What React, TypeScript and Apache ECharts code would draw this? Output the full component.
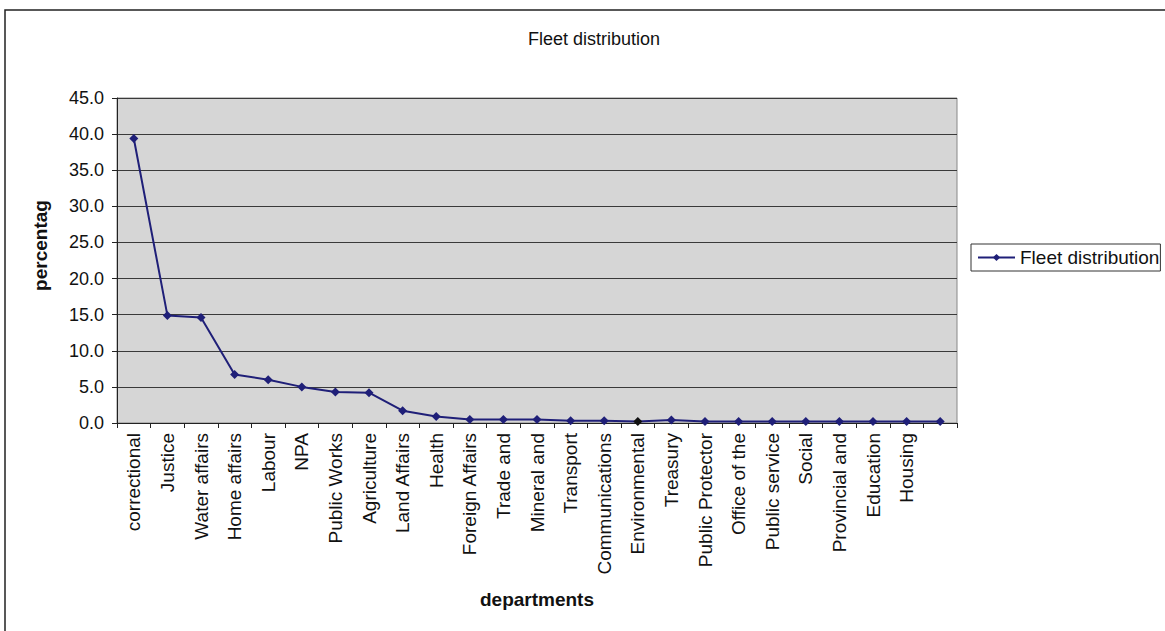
import React, { useEffect, useRef } from "react";
import * as echarts from "echarts";

const categories = [
  "correctional", "Justice", "Water affairs", "Home affairs", "Labour", "NPA",
  "Public Works", "Agriculture", "Land Affairs", "Health", "Foreign Affairs",
  "Trade and", "Mineral and", "Transport", "Communications", "Environmental",
  "Treasury", "Public Protector", "Office of the", "Public service", "Social",
  "Provincial and", "Education", "Housing", "",
];
const fleetValues = [
  39.4, 14.9, 14.6, 6.7, 6.0, 5.0, 4.3, 4.2, 1.7, 0.9, 0.5, 0.5, 0.5, 0.3,
  0.3, 0.2, 0.4, 0.2, 0.2, 0.2, 0.2, 0.2, 0.2, 0.2, 0.2,
];
const seriesName = "Fleet distribution";
const titleText = "Fleet distribution";
const yAxisName = "percentag";
const xAxisName = "departments";

const FONT = "'Liberation Sans', Arial, sans-serif";
const NAVY = "#1f1f78";

export default function App() {
  const ref = useRef<HTMLDivElement>(null);
  useEffect(() => {
    if (!ref.current) return;
    const chart = echarts.init(ref.current, undefined, { renderer: "svg" });
    chart.setOption({
      animation: false,
      backgroundColor: "#ffffff",
      textStyle: { fontFamily: FONT },
      title: {
        text: titleText,
        left: 589,
        top: 25,
        textAlign: "center",
        textStyle: { fontSize: 18, fontWeight: "normal", color: "#111", fontFamily: FONT },
      },
      legend: {
        left: 971,
        top: 244,
        orient: "vertical",
        borderColor: "#333",
        borderWidth: 1,
        padding: [4, 1, 4, 6],
        itemWidth: 37,
        itemHeight: 9,
        textStyle: { fontSize: 19, color: "#111", fontFamily: FONT },
        data: [seriesName],
      },
      grid: {
        left: 117,
        right: 1165 - 957,
        top: 98,
        bottom: 631 - 423,
        show: true,
        backgroundColor: "#d6d6d6",
        borderColor: "#888",
        borderWidth: 1,
      },
      xAxis: {
        type: "category",
        data: categories,
        boundaryGap: true,
        name: xAxisName,
        nameLocation: "middle",
        nameGap: 167,
        nameTextStyle: { fontSize: 19, fontWeight: "bold", color: "#111", fontFamily: FONT },
        axisLine: { show: true, lineStyle: { color: "#222", width: 1 } },
        axisTick: { show: true, alignWithLabel: false, length: 5, lineStyle: { color: "#222" } },
        axisLabel: {
          interval: 0,
          rotate: 90,
          margin: 10,
          fontSize: 19,
          color: "#111",
          fontFamily: FONT,
        },
        splitLine: { show: false },
      },
      yAxis: {
        type: "value",
        min: 0,
        max: 45,
        interval: 5,
        name: yAxisName,
        nameLocation: "middle",
        nameGap: 67,
        nameTextStyle: {
          fontSize: 19,
          fontWeight: "bold",
          color: "#111",
          fontFamily: FONT,
          padding: [0, 0, 0, 30],
        },
        axisLine: { show: true, lineStyle: { color: "#222", width: 1 } },
        axisTick: { show: true, length: 5, lineStyle: { color: "#222" } },
        axisLabel: {
          fontSize: 18,
          color: "#111",
          margin: 13,
          fontFamily: FONT,
          formatter: (v: number) => v.toFixed(1),
        },
        splitLine: { show: true, lineStyle: { color: "#3a3a3a", width: 1.2 } },
      },
      series: [
        {
          name: seriesName,
          type: "line",
          data: fleetValues.map((v, i) =>
            categories[i] === "Environmental" ? { value: v, itemStyle: { color: "#111" } } : v
          ),
          symbol: "diamond",
          symbolSize: 9,
          lineStyle: { color: NAVY, width: 2 },
          itemStyle: { color: NAVY },
        },
      ],
      graphic: [
        {
          type: "rect",
          shape: { x: 5, y: 10, width: 1175, height: 640 },
          style: { fill: "none", stroke: "#222", lineWidth: 1.5 },
          silent: true,
        },
      ],
    });
    return () => chart.dispose();
  }, []);
  return <div ref={ref} style={{ position: "absolute", left: 0, top: 0, width: 1165, height: 631 }} />;
}
